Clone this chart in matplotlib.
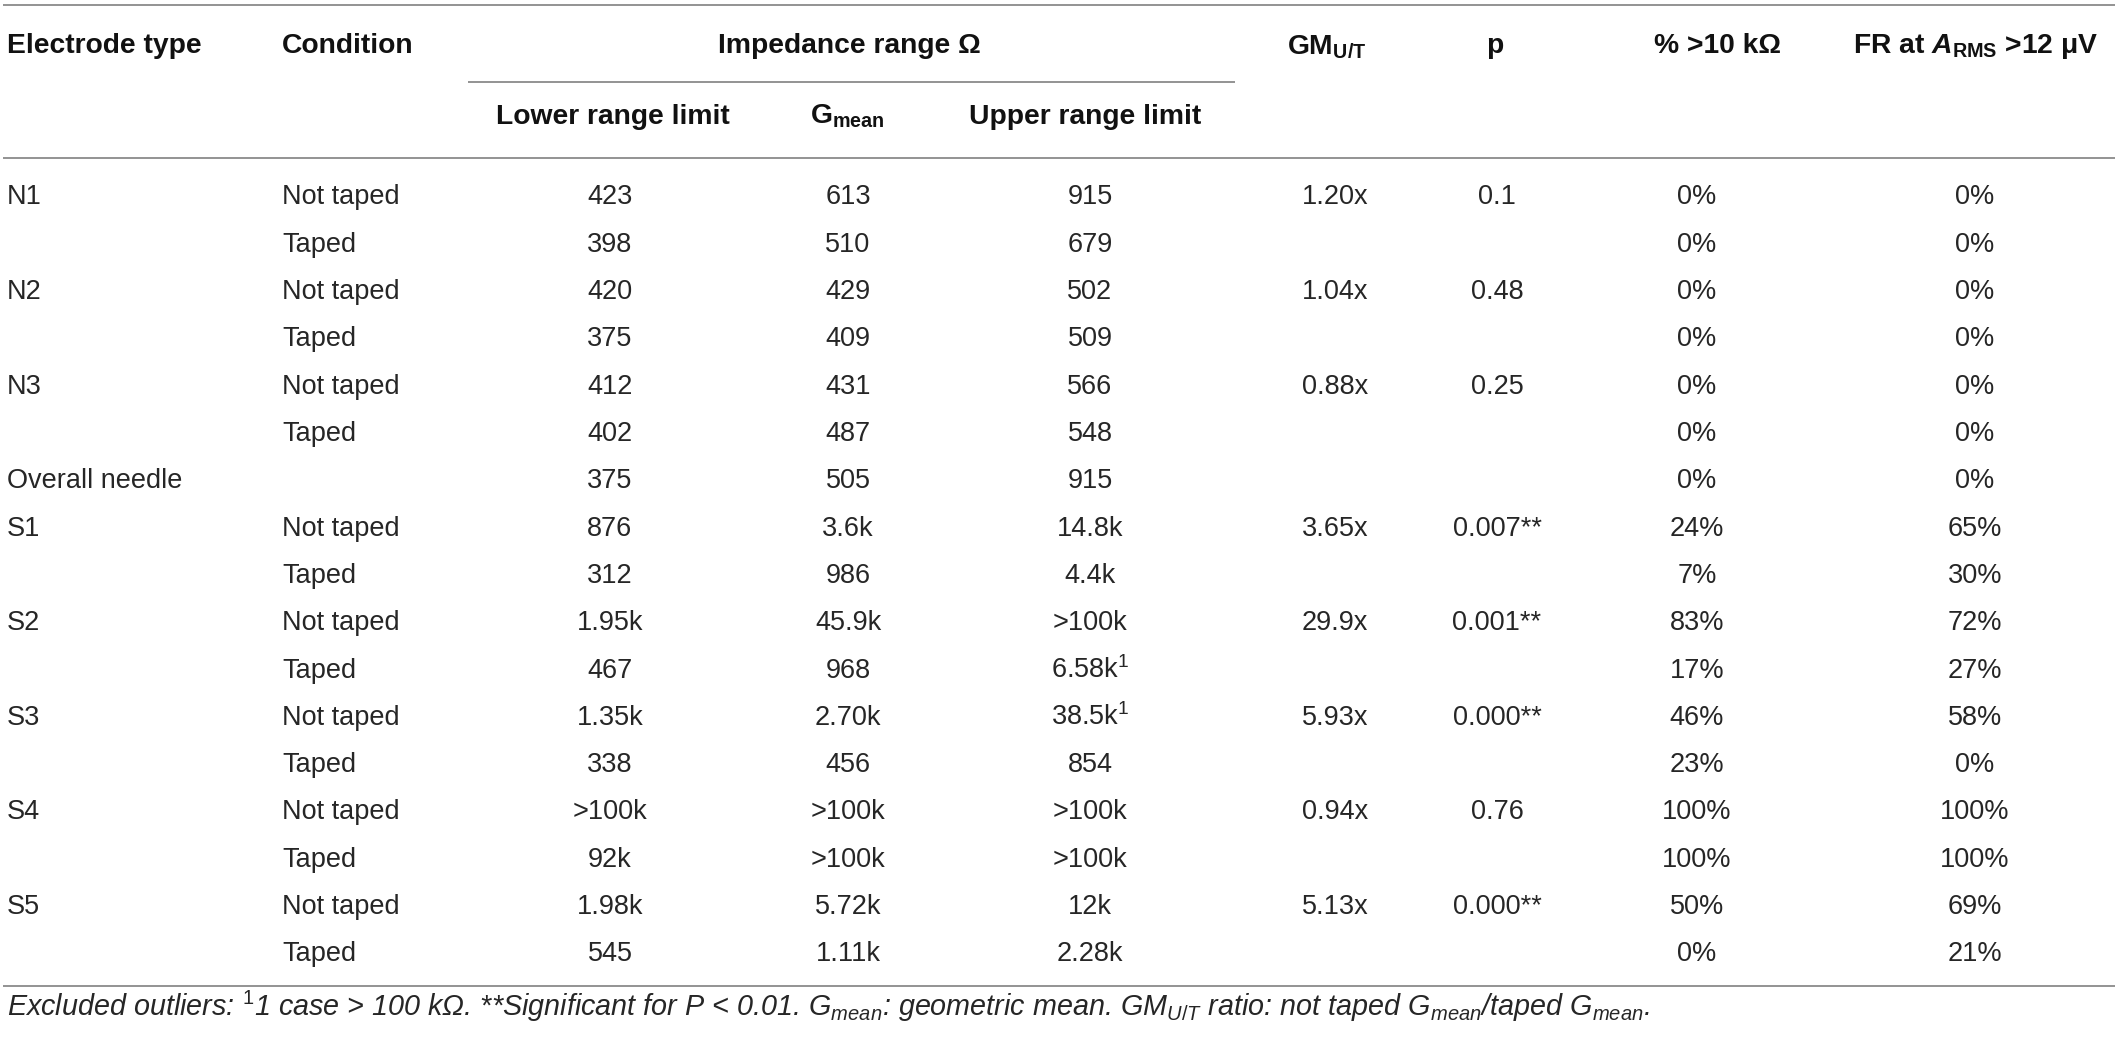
import matplotlib
matplotlib.use("Agg")
import matplotlib.pyplot as plt

# ---------------- data ----------------
electrode = ["N1", "", "N2", "", "N3", "", "Overall needle", "S1", "", "S2", "",
             "S3", "", "S4", "", "S5", ""]
condition = ["Not taped", "Taped", "Not taped", "Taped", "Not taped", "Taped", "",
             "Not taped", "Taped", "Not taped", "Taped", "Not taped", "Taped",
             "Not taped", "Taped", "Not taped", "Taped"]
lower = ["423", "398", "420", "375", "412", "402", "375", "876", "312", "1.95k",
         "467", "1.35k", "338", ">100k", "92k", "1.98k", "545"]
gmean = ["613", "510", "429", "409", "431", "487", "505", "3.6k", "986", "45.9k",
         "968", "2.70k", "456", ">100k", ">100k", "5.72k", "1.11k"]
upper = ["915", "679", "502", "509", "566", "548", "915", "14.8k", "4.4k", ">100k",
         r"6.58k$^{\mathrm{1}}$", r"38.5k$^{\mathrm{1}}$", "854", ">100k", ">100k",
         "12k", "2.28k"]
gm_ratio = ["1.20x", "", "1.04x", "", "0.88x", "", "", "3.65x", "", "29.9x", "",
            "5.93x", "", "0.94x", "", "5.13x", ""]
p_value = ["0.1", "", "0.48", "", "0.25", "", "", "0.007**", "", "0.001**", "",
           "0.000**", "", "0.76", "", "0.000**", ""]
pct_10k = ["0%", "0%", "0%", "0%", "0%", "0%", "0%", "24%", "7%", "83%", "17%",
           "46%", "23%", "100%", "100%", "50%", "0%"]
fr_arms = ["0%", "0%", "0%", "0%", "0%", "0%", "0%", "65%", "30%", "72%", "27%",
           "58%", "0%", "100%", "100%", "69%", "21%"]

top_headers = ["Electrode type", "Condition", r"Impedance range Ω",
               r"GM$_{\mathbf{U/T}}$", "p", "% >10 kΩ",
               r"FR at $\mathbfit{A}_{\mathbf{RMS}}$ >12 μV"]
sub_headers = ["Lower range limit", r"G$_{\mathbf{mean}}$", "Upper range limit"]
footnote = (r"Excluded outliers: $^{\mathit{1}}$1 case > 100 kΩ. **Significant for P < 0.01. "
            r"G$_{\mathit{mean}}$: geometric mean. GM$_{\mathit{U/T}}$ ratio: not taped "
            r"G$_{\mathit{mean}}$/taped G$_{\mathit{mean}}$.")

# ---------------- style ----------------
plt.rcParams["font.family"] = ["Liberation Sans", "DejaVu Sans"]
plt.rcParams["mathtext.fontset"] = "custom"
plt.rcParams["mathtext.rm"] = "Liberation Sans"
plt.rcParams["mathtext.it"] = "Liberation Sans:italic"
plt.rcParams["mathtext.bf"] = "Liberation Sans:bold"
plt.rcParams["mathtext.bfit"] = "Liberation Sans:italic:bold"
plt.rcParams["mathtext.sf"] = "Liberation Sans"

W, H = 2117, 1040
fig = plt.figure(figsize=(W / 100, H / 100), dpi=100)
ax = fig.add_axes([0, 0, 1, 1])
ax.set_xlim(0, W)
ax.set_ylim(H, 0)
ax.axis("off")

body_col = "#262626"
head_col = "#111111"
line_col = "#939393"
fs_body = 19.5
fs_head = 20.3

# column anchors
x_elec, x_cond = 7, 282
x_cols = [610, 848, 1090, 1335, 1497, 1697, 1975]

# header
hb = 53  # baseline of top header
ax.text(x_elec, hb, top_headers[0], ha="left", va="baseline", fontsize=fs_head,
        fontweight="bold", color=head_col)
ax.text(x_cond, hb, top_headers[1], ha="left", va="baseline", fontsize=fs_head,
        fontweight="bold", color=head_col)
ax.text(849, hb, top_headers[2], ha="center", va="baseline", fontsize=fs_head,
        fontweight="bold", color=head_col)
for xc, lab in zip([1327, 1495, 1718, 1976], top_headers[3:]):
    ax.text(xc, hb, lab, ha="center", va="baseline", fontsize=fs_head,
            fontweight="bold", color=head_col)
sb = 124
for xc, lab in zip([613, 847, 1085], sub_headers):
    ax.text(xc, sb, lab, ha="center", va="baseline", fontsize=fs_head,
            fontweight="bold", color=head_col)

# rules
ax.hlines(5, 3, 2115, color=line_col, lw=1.4)
ax.hlines(82, 468, 1235, color=line_col, lw=1.4)
ax.hlines(158, 3, 2115, color=line_col, lw=1.4)
ax.hlines(986, 3, 2115, color=line_col, lw=1.4)

# body
y0, dy = 195, 47.3
cols = [lower, gmean, upper, gm_ratio, p_value, pct_10k, fr_arms]
for i in range(len(electrode)):
    yb = y0 + i * dy + 9.5
    ax.text(x_elec, yb, electrode[i], ha="left", va="baseline", fontsize=fs_body,
            color=body_col)
    ax.text(x_cond, yb, condition[i], ha="left", va="baseline", fontsize=fs_body,
            color=body_col)
    for xc, col in zip(x_cols, cols):
        if col[i]:
            ax.text(xc, yb, col[i], ha="center", va="baseline", fontsize=fs_body,
                    color=body_col)

# footnote
ax.text(7, 1016, footnote, ha="left", va="baseline", fontsize=20.7,
        fontstyle="italic", color=body_col)

fig.savefig("out.png", dpi=100)
